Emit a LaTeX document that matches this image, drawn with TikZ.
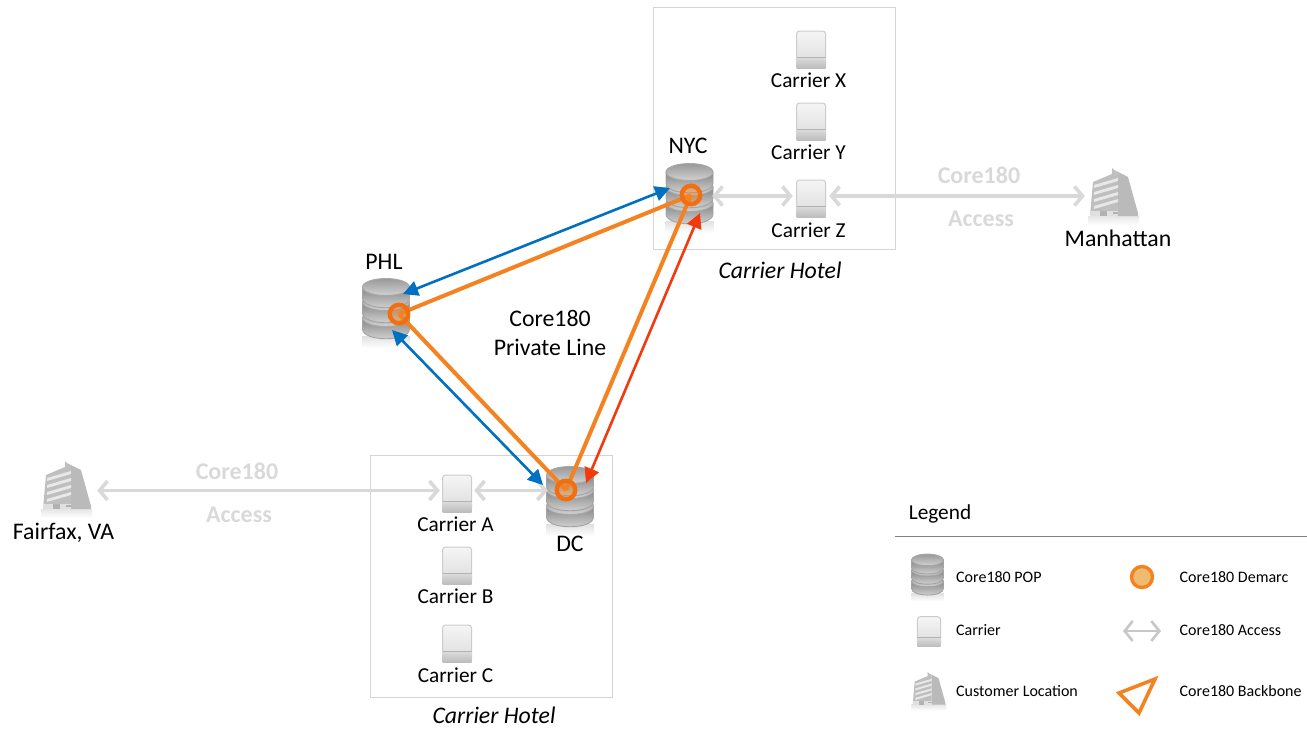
\documentclass[tikz,border=0pt]{standalone}
\usepackage{fontspec}
\setmainfont{Carlito}
\usetikzlibrary{arrows.meta}
\definecolor{hotelgray}{HTML}{D4D4D4}
\definecolor{accessgray}{HTML}{D9D9D9}
\definecolor{coreorange}{HTML}{F58220}
\definecolor{demarcring}{HTML}{F26F0F}
\definecolor{demarcfill}{HTML}{EFBB70}
\definecolor{coreblue}{HTML}{0070C0}
\definecolor{corered}{HTML}{F23A0C}
\tikzset{
  x=1pt,y=-1pt,
  hotel/.style={draw=hotelgray,line width=0.9pt,fill=white},
  lbl/.style={font=\fontsize{23.8}{28}\selectfont,text=black,inner sep=0pt},
  carlbl/.style={font=\fontsize{21.3}{25}\selectfont,text=black,inner sep=0pt},
  hotellbl/.style={font=\fontsize{23.8}{28}\selectfont\itshape,text=black,inner sep=0pt},
  acclbl/.style={font=\fontsize{24}{28}\selectfont\bfseries,text=accessgray,inner sep=0pt},
  leglbl/.style={font=\fontsize{16}{19}\selectfont,text=black,inner sep=0pt,anchor=west},
  anchorbox/.style={inner sep=0pt,minimum height=10pt,minimum width=#1},
  backbone/.style={draw=coreorange,line width=4pt},
  bluearrow/.style={draw=coreblue,line width=2.6pt,{Triangle[length=15pt,width=15pt]}-{Triangle[length=15pt,width=15pt]}},
  redarrow/.style={draw=corered,line width=2.6pt,{Triangle[length=15pt,width=15pt]}-{Triangle[length=15pt,width=15pt]}},
  access/.style={draw=accessgray,line width=3.6pt,{Straight Barb[length=8pt,width=19pt,line width=3.6pt]}-{Straight Barb[length=8pt,width=19pt,line width=3.6pt]}},
  demarc/.style={circle,draw=demarcring,line width=4.4pt,fill=coreorange,fill opacity=.4,minimum size=18.5pt,inner sep=0pt},
  pics/pop/.style={code={
    \shade[top color=black!12,bottom color=white,draw=none] (-24,26) rectangle (24,38);
    \foreach \t in {8,-8,-23}{
      \shade[top color=black!48,bottom color=black!14,draw=black!36,line width=.9pt]
        (-23.5,\t) -- (-23.5,\t+11) .. controls (-23.5,\t+24) and (23.5,\t+24) .. (23.5,\t+11) -- (23.5,\t) -- cycle;
      \shade[top color=black!40,bottom color=black!18,draw=black!34,line width=.9pt]
        (0,\t) ellipse[x radius=23.5pt,y radius=8.5pt];
    }
  }},
  pics/carrier/.style={code={
    \shade[top color=black!4,bottom color=black!14,draw=black!20,line width=1pt,rounded corners=3pt]
      (-14.5,-18.5) rectangle (14.5,18.5);
    \shade[top color=black!14,bottom color=black!26] (-14.5,8) rectangle (14.5,18.5);
    \draw[black!30,line width=.8pt] (-14.5,7.5) -- (14.5,7.5);
  }},
  pics/building/.style={code={
    \shade[top color=black!10,bottom color=white] (-26,23) rectangle (25,32);
    % front face
    \fill[black!25] (-21,-11) -- (-2,-19) -- (-2,-25) -- (0,-23) -- (4,-21) -- (4,22) -- (-24,23) -- cycle;
    % right face
    \fill[black!27] (4,-21) -- (14,-16) -- (24,20) -- (24,23) -- (4,23) -- cycle;
    \foreach \a/\b in {-8/-15,-1/-8,6/-1,13/6}{
      \fill[black!9] (-20,\a) -- (4,\b) -- (4,\b+3) -- (-20,\a+3) -- cycle;
    }
    \fill[black!12] (-24,18) rectangle (4,23);
    \fill[black!30] (-14,18) rectangle (-7,23);
    \fill[black!30] (-1,19) rectangle (4,21);
  }}
}
\begin{document}
\begin{tikzpicture}
\useasboundingbox (0,0) rectangle (1307,729);
% hotels
\draw[hotel] (653,7) rectangle (895,249);
\draw[hotel] (370,455) rectangle (612,697);
% icons
\pic at (689.5,195) {pop};
\pic at (386,310) {pop};
\pic at (570,498) {pop};
\pic at (811,49.5) {carrier};
\pic at (811,121.5) {carrier};
\pic at (811,198.5) {carrier};
\pic at (457,493.5) {carrier};
\pic at (457,565.5) {carrier};
\pic at (457,643.5) {carrier};
\pic at (1114,193) {building};
\pic at (67,486) {building};
% invisible anchor nodes
\node[anchorbox=46pt] (popNYC) at (689,196) {};
\node[anchorbox=44pt] (popDC) at (570,490.5) {};
\node[anchorbox=36pt] (carZ) at (811,196) {};
\node[anchorbox=34pt] (carA) at (457,490.5) {};
\node[anchorbox=58pt] (manh) at (1114,196) {};
\node[anchorbox=60pt] (fair) at (67,490.5) {};
\coordinate (demNYCc) at (691,195);
\coordinate (demPHLc) at (399,314);
\coordinate (demDCc) at (566,490);
\coordinate (blueNYC) at (670,188);
\coordinate (bluePHLa) at (403,294);
\coordinate (bluePHLb) at (392,330);
\coordinate (blueDC) at (543,485);
\coordinate (redNYC) at (700,213);
\coordinate (redDC) at (586,483);
% access
\draw[access] (popNYC.east) -- (carZ.west);
\draw[access] (carZ.east) -- (manh.west);
\draw[access] (carA.east) -- (popDC.west);
\draw[access] (fair.east) -- (carA.west);
% blue / red
\draw[bluearrow] (blueNYC) -- (bluePHLa);
\draw[bluearrow] (bluePHLb) -- (blueDC);
\draw[redarrow] (redNYC) -- (redDC);
% backbone
\draw[backbone] (demPHLc) -- (demNYCc);
\draw[backbone] (demPHLc) -- (demDCc);
\draw[backbone] (demDCc) -- (demNYCc);
\node[demarc] (demNYC) at (demNYCc) {};
\node[demarc] (demPHL) at (demPHLc) {};
\node[demarc] (demDC) at (demDCc) {};
% labels
\node[lbl] (lNYC) at (688,146) {NYC};
\node[lbl] (lPHL) at (384,262) {PHL};
\node[lbl] (lDC) at (570,543.5) {DC};
\node[carlbl] (lX) at (808.5,80) {Carrier X};
\node[carlbl] (lY) at (808.5,152.5) {Carrier Y};
\node[carlbl] (lZ) at (808.5,230.5) {Carrier Z};
\node[carlbl] (lA) at (455.5,524) {Carrier A};
\node[carlbl] (lB) at (455.5,596.5) {Carrier B};
\node[carlbl] (lC) at (455.5,675.5) {Carrier C};
\node[lbl] (lMan) at (1118,238) {Manhattan};
\node[lbl] (lFair) at (63.5,532.5) {Fairfax, VA};
\node[lbl] (lCore) at (550,318) {Core180};
\node[lbl] (lPriv) at (550,347) {Private Line};
\node[hotellbl] (h1) at (780,270) {Carrier Hotel};
\node[hotellbl] (h2) at (494,715) {Carrier Hotel};
\node[acclbl] (a1) at (979,175) {Core180};
\node[acclbl] (a2) at (981,219) {Access};
\node[acclbl] (a3) at (237,471) {Core180};
\node[acclbl] (a4) at (239,515) {Access};
% legend
\node[font=\fontsize{21.3}{25}\selectfont,inner sep=0pt] (legT) at (940,514) {Legend};
\coordinate (legL) at (895,536);
\coordinate (legR) at (1307,536);
\draw[black!50,line width=.9pt] (legL) -- (legR);
\pic[scale=.68] at (927.5,575.5) {pop};
\pic[scale=.8] at (929,631.5) {carrier};
\pic[scale=.68] at (929,689) {building};
\node[leglbl] (t1) at (956,577) {Core180 POP};
\node[leglbl] (t2) at (956,630) {Carrier};
\node[leglbl] (t3) at (956,691) {Customer Location};
\node[leglbl] (t4) at (1179.5,577) {Core180 Demarc};
\node[leglbl] (t5) at (1179.5,630) {Core180 Access};
\node[leglbl] (t6) at (1179.5,691) {Core180 Backbone};
\node[circle,draw=coreorange,line width=3.4pt,fill=demarcfill,minimum size=21pt,inner sep=0pt] (legDem) at (1142,577) {};
\coordinate (legA1) at (1123,631);
\coordinate (legA2) at (1161,631);
\draw[draw=black!22,line width=2.6pt,{Straight Barb[length=8pt,width=20pt,line width=2.6pt]}-{Straight Barb[length=8pt,width=20pt,line width=2.6pt]}] (legA1) -- (legA2);
\coordinate (legB1) at (1119,693);
\coordinate (legB2) at (1155,679);
\coordinate (legB3) at (1139,713);
\draw[draw=coreorange,line width=3.6pt,line join=miter] (legB1) -- (legB2) -- (legB3) -- cycle;
\end{tikzpicture}
\end{document}
